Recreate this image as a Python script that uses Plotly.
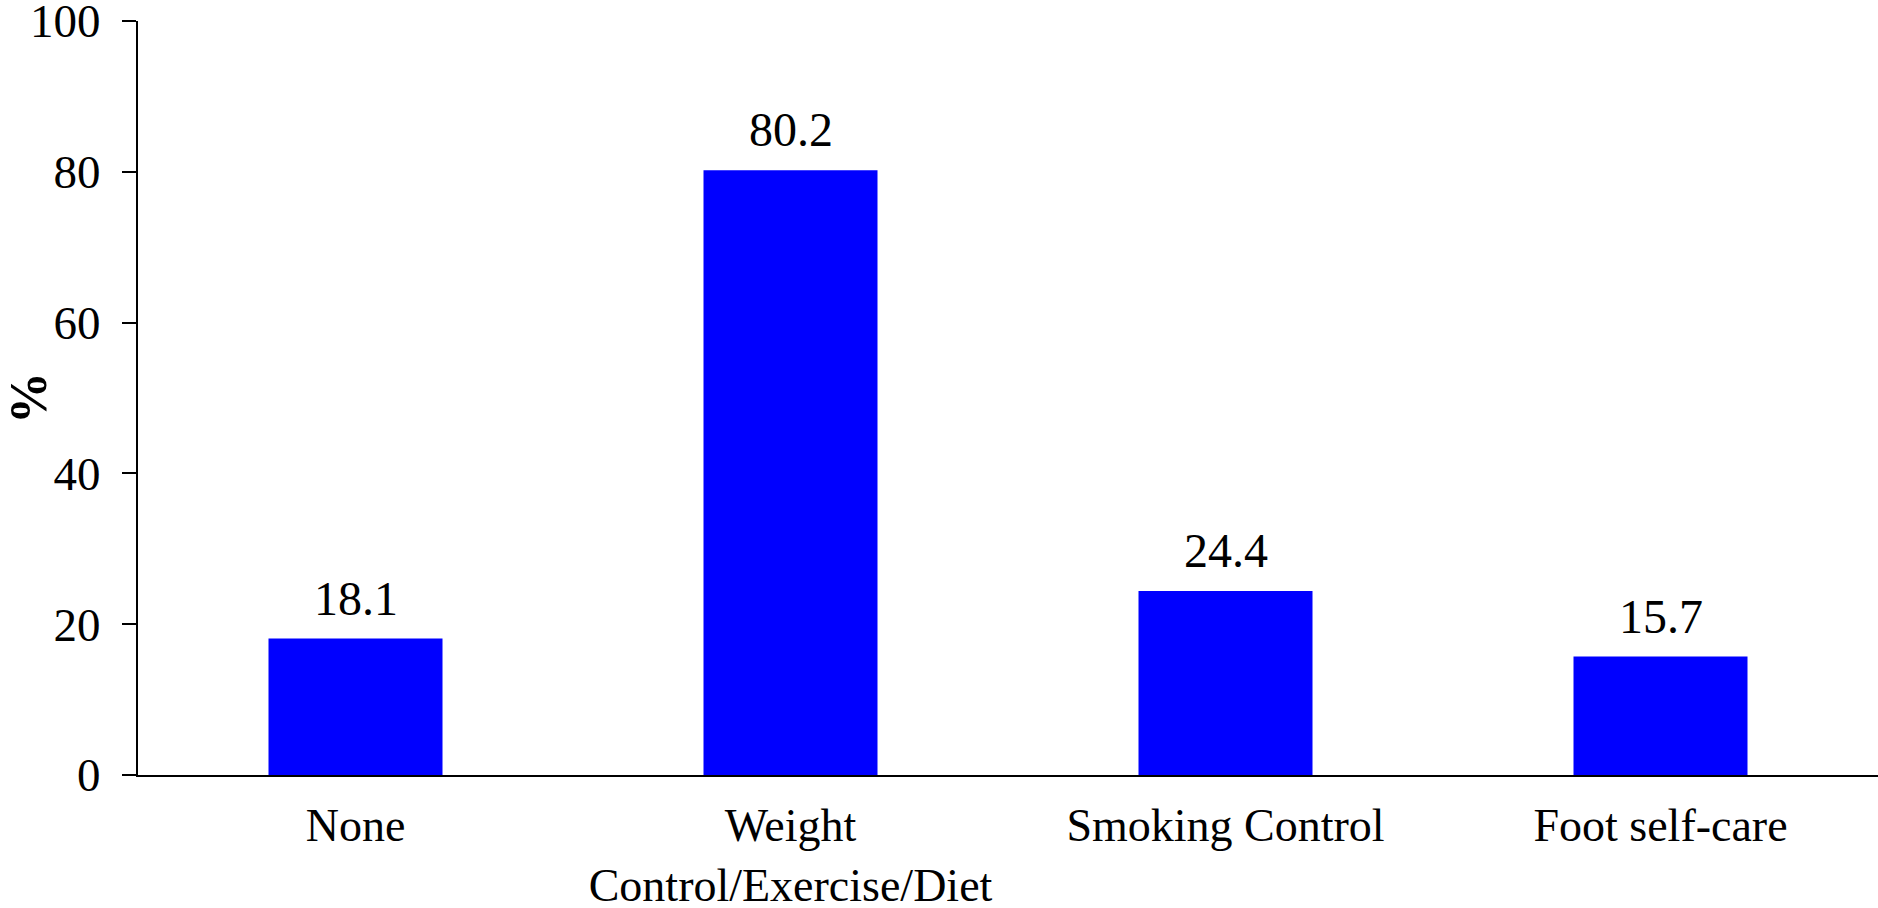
import plotly.graph_objects as go

categories = ["None", "Weight<br>Control/Exercise/Diet", "Smoking Control", "Foot self-care"]
values = [18.1, 80.2, 24.4, 15.7]
value_labels = ["18.1", "80.2", "24.4", "15.7"]
y_ticks = [0, 20, 40, 60, 80, 100]

serif = "Liberation Serif, Times New Roman, serif"

fig = go.Figure()
fig.add_trace(go.Bar(
    x=categories,
    y=values,
    width=0.4,
    marker=dict(color="#0000ff", line=dict(width=0)),
    hoverinfo="skip",
))

# value labels above each bar
for cat, v, lab in zip(categories, values, value_labels):
    fig.add_annotation(
        x=cat, y=v, text=lab, showarrow=False,
        yanchor="bottom", yshift=12,
        font=dict(family=serif, size=48, color="black"),
    )

fig.update_layout(
    width=1878, height=908,
    margin=dict(l=138, r=0, t=21, b=133),
    plot_bgcolor="white", paper_bgcolor="white",
    showlegend=False,
    bargap=0.6,
    font=dict(family=serif, color="black"),
)
fig.update_xaxes(
    range=[-0.5, 3.5],
    automargin=False,
    showline=True, linecolor="black", linewidth=2,
    ticks="", showgrid=False, zeroline=False,
    tickfont=dict(family=serif, size=46, color="black"),
    ticklabelstandoff=9,
)
fig.update_yaxes(
    range=[0, 100],
    automargin=False,
    tickvals=y_ticks,
    showline=True, linecolor="black", linewidth=2,
    ticks="outside", ticklen=14, tickwidth=2, tickcolor="black",
    showgrid=False, zeroline=False,
    tickfont=dict(family=serif, size=47, color="black"),
    ticklabelstandoff=12,
    ticklabeloverflow="allow",
    title=dict(text="<b>%</b>", font=dict(family=serif, size=52, color="black"), standoff=12),
)

fig.write_html("out.html")
